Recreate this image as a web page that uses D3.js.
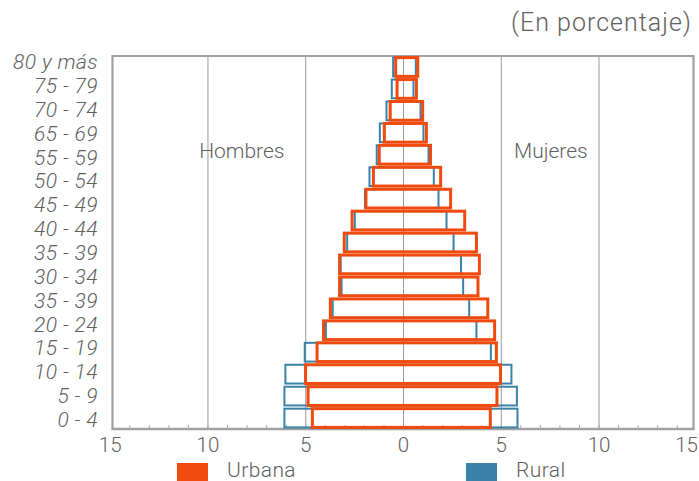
<!DOCTYPE html>
<html>
<head>
<meta charset="utf-8">
<script src="https://cdn.jsdelivr.net/npm/d3@7"></script>
<style>
  body { margin: 0; background: #fff; }
  svg text { font-family: Roboto, "Liberation Sans", sans-serif; font-weight: 300; fill: #616161; }
</style>
</head>
<body>
<svg width="699" height="481"></svg>
<script>
// grupos de edad (de arriba hacia abajo), 17 barras
const ageGroups = ["80+", "75-79", "70-74", "65-69", "60-64", "55-59", "50-54", "45-49", "40-44",
  "35-39", "30-34", "25-29", "20-24", "15-19", "10-14", "5-9", "0-4"];
// etiquetas tal como aparecen en el eje (16)
const ageTickLabels = ["80 y más", "75 - 79", "70 - 74", "65 - 69", "55 - 59", "50 - 54", "45 - 49", "40 - 44",
  "35 - 39", "30 - 34", "35 - 39", "20 - 24", "15 - 19", "10 - 14", "5 - 9", "0 - 4"];

const urbanMen =   [0.40, 0.33, 0.68, 0.98, 1.24, 1.54, 1.92, 2.63, 3.03, 3.27, 3.27, 3.74, 4.09, 4.42, 5.01, 4.88, 4.66];
const urbanWomen = [0.73, 0.66, 0.98, 1.17, 1.38, 1.90, 2.41, 3.13, 3.73, 3.88, 3.81, 4.31, 4.66, 4.75, 4.96, 4.78, 4.44];
const ruralMen =   [0.53, 0.60, 0.87, 1.21, 1.37, 1.74, 1.97, 2.49, 2.88, 3.21, 3.17, 3.62, 3.97, 5.05, 6.04, 6.09, 6.09];
const ruralWomen = [0.63, 0.51, 0.87, 1.02, 1.28, 1.55, 1.79, 2.20, 2.56, 2.94, 3.05, 3.36, 3.73, 4.47, 5.52, 5.80, 5.83];

const xMajor = [-15, -10, -5, 0, 5, 10, 15];
const xGrid = [-10, -5, 0, 5, 10];
const legendItems = ["Urbana", "Rural"];

const width = 699, height = 481;
const plot = { left: 112.5, right: 693.5, top: 56, bottom: 429 };
const colorUrban = "#f04a0e", colorRural = "#3a82a8";

const svg = d3.select("svg");

const x = d3.scaleLinear().domain([-15, 15]).range([110.2, 696.8]);
const y = d3.scaleBand().domain(ageGroups).range([plot.top, plot.bottom]);
const yLabel = d3.scalePoint().domain(d3.range(ageTickLabels.length)).range([61.5, 419.5]);

// lineas verticales
svg.append("g")
  .selectAll("line")
  .data(xGrid)
  .join("line")
  .attr("x1", d => x(d)).attr("x2", d => x(d))
  .attr("y1", plot.top).attr("y2", plot.bottom)
  .style("stroke", "#9a9a9a")
  .style("stroke-width", 1);

// ticks menores
svg.append("g")
  .selectAll("line")
  .data(d3.range(-14, 15))
  .join("line")
  .attr("x1", d => x(d)).attr("x2", d => x(d))
  .attr("y1", plot.bottom - 4).attr("y2", plot.bottom)
  .style("stroke", "#aaa")
  .style("stroke-width", 1);

// marco
svg.append("path")
  .attr("d", `M${plot.left},${plot.bottom}V${plot.top}H${plot.right}V${plot.bottom}`)
  .style("fill", "none")
  .style("stroke", "#a0a0a0")
  .style("stroke-width", 2.2);
svg.append("line")
  .attr("x1", plot.left - 1).attr("x2", plot.right + 1)
  .attr("y1", plot.bottom).attr("y2", plot.bottom)
  .style("stroke", "#a0a0a0")
  .style("stroke-width", 2.6);

function rows(men, women) {
  return ageGroups.map((g, i) => ({ group: g, men: men[i], women: women[i] }));
}

function drawBars(data, color, sw) {
  svg.append("g")
    .selectAll("rect")
    .data(data)
    .join("rect")
    .attr("x", d => x(-d.men))
    .attr("width", d => x(d.women) - x(-d.men))
    .attr("y", d => y(d.group) + 1.6)
    .attr("height", y.bandwidth() - 3.2)
    .style("fill", "none")
    .style("stroke", color)
    .style("stroke-width", sw);
}

drawBars(rows(ruralMen, ruralWomen), colorRural, 2);
drawBars(rows(urbanMen, urbanWomen), colorUrban, 3);

// etiquetas eje x
svg.append("g")
  .selectAll("text")
  .data(xMajor)
  .join("text")
  .attr("x", d => d === 15 ? 698 : x(d))
  .attr("y", 452)
  .attr("text-anchor", d => d === 15 ? "end" : "middle")
  .style("font-size", "20.5px")
  .text(d => Math.abs(d));

// etiquetas eje y
svg.append("g")
  .selectAll("text")
  .data(ageTickLabels)
  .join("text")
  .attr("x", 98)
  .attr("y", (d, i) => yLabel(i))
  .attr("dy", "0.36em")
  .attr("text-anchor", "end")
  .style("font-size", "21px")
  .style("letter-spacing", "0.4px")
  .style("font-style", "italic")
  .text(d => d);

svg.append("text")
  .attr("x", x(-10.45)).attr("y", 158)
  .style("font-size", "21px")
  .text("Hombres");
svg.append("text")
  .attr("x", x(5.65)).attr("y", 158)
  .style("font-size", "21px")
  .text("Mujeres");

svg.append("text")
  .attr("x", 692).attr("y", 31)
  .attr("text-anchor", "end")
  .style("font-size", "25px")
  .style("letter-spacing", "1px")
  .text("(En porcentaje)");

// leyenda
const legendX = [177, 466];
const legend = svg.append("g")
  .selectAll("g")
  .data(legendItems)
  .join("g")
  .attr("transform", (d, i) => `translate(${legendX[i]},0)`);
legend.append("rect")
  .attr("x", 0).attr("y", 463)
  .attr("width", 31).attr("height", 18)
  .style("fill", (d, i) => i === 0 ? colorUrban : colorRural);
legend.append("text")
  .attr("x", 50).attr("y", 477)
  .style("font-size", "21px")
  .style("letter-spacing", "0.4px")
  .text(d => d);
</script>
</body>
</html>
